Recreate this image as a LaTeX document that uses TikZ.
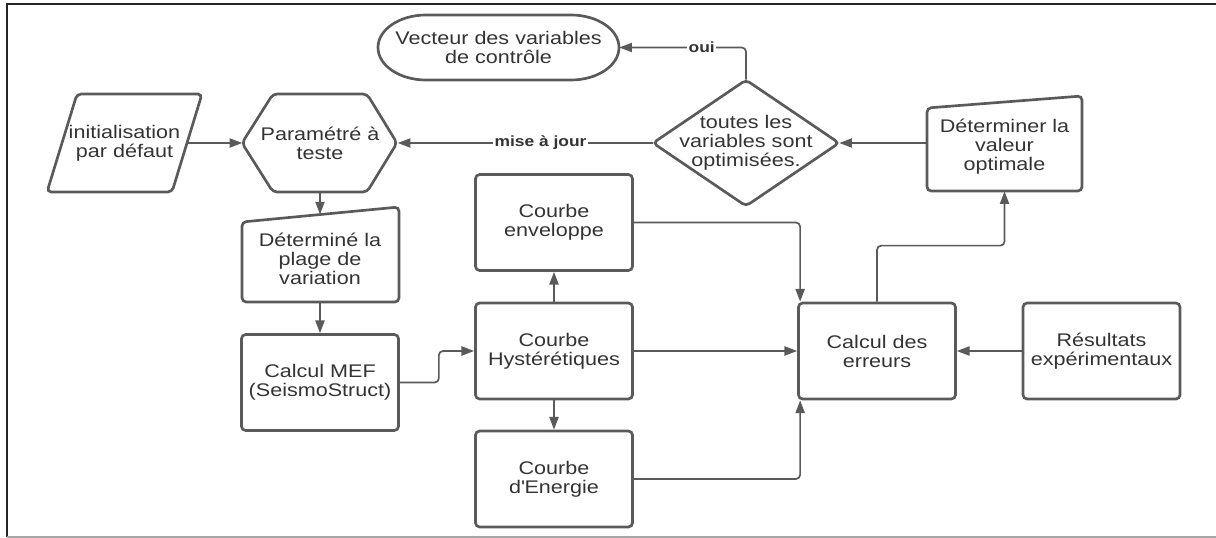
\documentclass[tikz,border=0pt]{standalone}
\usepackage{fontspec}
\setmainfont[FakeStretch=1.18]{Liberation Sans}
\usetikzlibrary{arrows.meta}

\definecolor{lgray}{HTML}{5A5A5A}
\definecolor{tgray}{HTML}{333333}

\tikzset{
  shp/.style={draw=lgray, line width=1.9pt, rounded corners=3pt},
  lbl/.style={font=\fontsize{13}{13.5}\selectfont, text=tgray, align=center, inner sep=0pt},
  blk/.style={lbl, shp, minimum width=3.925cm, minimum height=2.4cm},
  con/.style={draw=lgray, line width=1.2pt, rounded corners=3pt},
  arr/.style={con, -{Triangle[length=9pt,width=6.5pt]}},
  tag/.style={font=\bfseries\fontsize{10.5}{12}\selectfont, text=tgray, fill=white, inner sep=1pt}
}

\begin{document}
\begin{tikzpicture}[x=0.025cm,y=-0.025cm] % 1 unit = 1 px
\useasboundingbox (0,0) rectangle (1216,538);
\draw[line width=1.8pt, black!85] (7,537) -- (7,4) -- (1216,4);
\draw[line width=1pt, black!35] (7,537) -- (1216,537);

% shapes that are not plain boxes
\node[lbl, minimum width=6.025cm, minimum height=1.625cm] (vect) at (498.5,47.5) {Vecteur des variables\\de contrôle};
\draw[shp, sharp corners] (426,15) -- (571,15) arc[start angle=-90,end angle=90,x radius=48,y radius=32.5]
  -- (426,80) arc[start angle=90,end angle=270,x radius=48,y radius=32.5] -- cycle;

\node[lbl, minimum width=3.125cm, minimum height=2.45cm] (init) at (124.5,143) {initialisation\\par défaut};
\draw[shp] (47,192) -- (77,94) -- (202,94) -- (172,192) -- cycle;

\node[lbl, minimum width=3.875cm, minimum height=2.45cm] (hex) at (320,143) {Paramétré à\\teste};
\draw[shp] (242,143) -- (273,94) -- (367,94) -- (397,143) -- (367,192) -- (273,192) -- cycle;

\node[lbl, minimum width=4.65cm, minimum height=3.15cm] (diam) at (746,143) {toutes les\\variables sont\\optimisées.};
\draw[shp] (653,143) -- (746,80) -- (839,143) -- (746,206) -- cycle;

\node[lbl, minimum width=3.875cm, minimum height=2.225cm] (opt) at (1004.5,146.5) {Déterminer la\\valeur\\optimale};
\draw[shp] (927,108) -- (1082,96) -- (1082,191) -- (927,191) -- cycle;

\node[lbl, minimum width=3.925cm, minimum height=2.19cm] (plage) at (320,258.5) {Déterminé la\\plage de\\variation};
\draw[shp] (242,222) -- (399,207) -- (399,302) -- (242,302) -- cycle;

% boxes
\node[blk] (mef) at (320,382.5) {Calcul MEF\\(SeismoStruct)};
\node[blk] (env) at (554,222.5) {Courbe\\enveloppe};
\node[blk] (hyst) at (554,351) {Courbe\\Hystérétiques};
\node[blk] (ener) at (554,479) {Courbe\\d\textquotesingle Energie};
\node[blk] (err) at (877,351) {Calcul des\\erreurs};
\node[blk] (res) at (1101.5,351) {Résultats\\expérimentaux};

\foreach \a/\b in {init/hex, hex/plage, plage/mef, hyst/env, hyst/ener, hyst/err, res/err} {
\draw[arr] (\a) -- (\b);
}

\draw[arr] (diam.west) -- node[tag, pos=0.44] {mise à jour} (hex.east);
\draw[arr] (diam.north) |- node[tag, pos=0.675] {oui} (vect.east);
\draw[arr] (opt.west |- diam.east) -- (diam.east);
\draw[arr] (mef.east) -- ++(39,0) |- (hyst.west);
\draw[arr] (env.east) -| ([xshift=0.075cm]err.north west);
\draw[arr] (ener.east) -| ([xshift=0.075cm]err.south west);
\draw[arr] (err.north) -- ++(0,-56) -| (opt.south);

\end{tikzpicture}
\end{document}
